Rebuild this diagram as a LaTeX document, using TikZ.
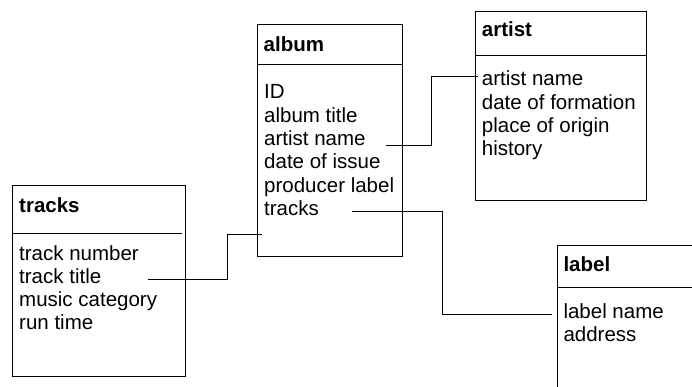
\documentclass[tikz,border=0pt]{standalone}
\usepackage{fontspec}
\setmainfont{Liberation Sans}

\tikzset{
  tablebox/.style={draw, line width=1pt},
  tabtitle/.style={anchor=base west, inner sep=0pt, font=\fontsize{20.5}{23}\selectfont\bfseries},
  tabfield/.style={anchor=base west, inner sep=0pt, font=\fontsize{20.5}{23}\selectfont},
  link/.style={line width=1pt}
}

\begin{document}
\begin{tikzpicture}[x=1pt, y=-1pt]
        \clip (0,0) rectangle (692,387);

        %album
        \draw[tablebox] (257.5,25) coordinate (album-nw) rectangle (402.5,256.5) coordinate (album-se);
        \draw[link] (257.5,64.5) -- (402.5,64.5);
        \node[tabtitle] (album) at (263.5,52) {album};
        \node[tabfield] (album-id) at (264,99) {ID};
        \node[tabfield] (album-title) at (264,122.3) {album title};
        \node[tabfield] (album-artist) at (264,145.6) {artist name};
        \node[tabfield] (album-issue) at (264,168.9) {date of issue};
        \node[tabfield] (album-label) at (264,192.2) {producer label};
        \node[tabfield] (album-tracks) at (264,215.5) {tracks};

        %artist
        \draw[tablebox] (475,11.5) coordinate (artist-nw) rectangle (646.5,200.5) coordinate (artist-se);
        \draw[link] (475,55.5) -- (646.5,55.5);
        \node[tabtitle] (artist) at (481.7,36.7) {artist};
        \node[tabfield] (artist-name) at (481.7,86) {artist name};
        \node[tabfield] (artist-formation) at (481.7,109.3) {date of formation};
        \node[tabfield] (artist-origin) at (481.7,132.7) {place of origin};
        \node[tabfield] (artist-history) at (481.7,156) {history};

        %tracks
        \draw[tablebox] (12.5,185.5) coordinate (tracks-nw) rectangle (185,376.5) coordinate (tracks-se);
        \draw[link] (12.5,233.5) -- (182,233.5);
        \node[tabtitle] (tracks) at (19,212.3) {tracks};
        \node[tabfield] (tracks-number) at (19,260) {track number};
        \node[tabfield] (tracks-title) at (19,283.3) {track title};
        \node[tabfield] (tracks-category) at (19,306.6) {music category};
        \node[tabfield] (tracks-runtime) at (19,329.9) {run time};

        %label
        \draw[tablebox] (557,245) coordinate (label-nw) rectangle (700,400) coordinate (label-se);
        \draw[link] (557,287.5) -- (700,287.5);
        \node[tabtitle] (label) at (563.3,271.7) {label};
        \node[tabfield] (label-name) at (563.3,318.3) {label name};
        \node[tabfield] (label-address) at (563.3,341.6) {address};

        %connecting lines
        \coordinate (tt-end) at (148,279);
        \coordinate (at-end) at (262,234.3);
        \draw[link] (tt-end) -| ([xshift=-35]at-end) -- (at-end);

        \coordinate (an-end) at (386,145.3);
        \coordinate (ar-end) at (478,77);
        \draw[link] (an-end) -| ([xshift=-47]ar-end) -- (ar-end);

        \coordinate (tr-end) at (352,211);
        \coordinate (ln-end) at (552.3,314);
        \draw[link] (tr-end) -| ([xshift=-110]ln-end) -- (ln-end);
    \end{tikzpicture}
\end{document}
